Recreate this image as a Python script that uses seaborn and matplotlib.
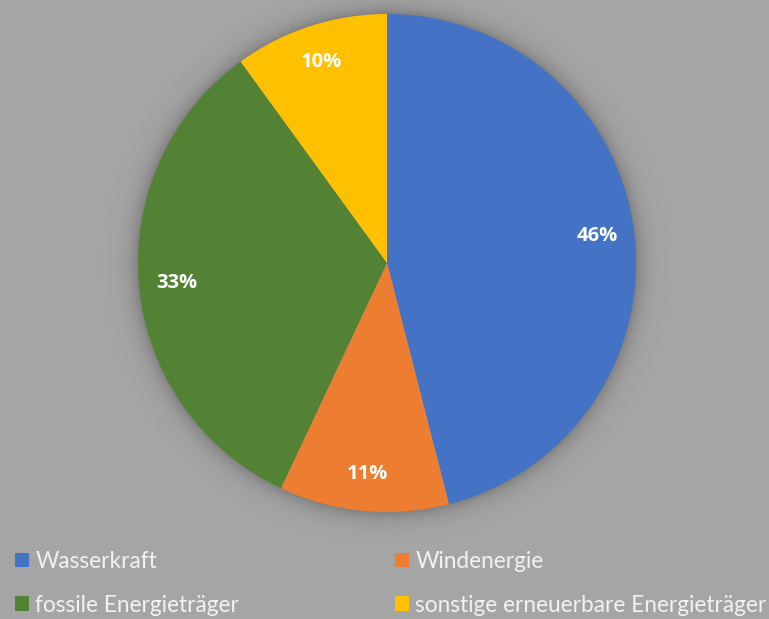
import numpy as np
import matplotlib
matplotlib.use("Agg")
import matplotlib.pyplot as plt
import seaborn as sns
from matplotlib.patches import Patch

sns.set_theme(style="white")
plt.rcParams["font.family"] = ["Lato", "DejaVu Sans"]

# Anteile der Energieträger (Prozent)
categories = ["Wasserkraft", "Windenergie", "fossile Energieträger",
              "sonstige erneuerbare Energieträger"]
shares = [46, 11, 33, 10]
colors = ["#4472C4", "#ED7D31", "#548235", "#FFC000"]

W, H = 769, 619
bg = "#a5a5a5"
fig = plt.figure(figsize=(W / 100, H / 100), dpi=100)
fig.patch.set_facecolor(bg)

# pie geometry in pixels (from top-left)
cx, cy, R = 387, 263, 249

# soft shadow behind the pie
bg_ax = fig.add_axes([0, 0, 1, 1], zorder=0)
bg_ax.set_xlim(0, W)
bg_ax.set_ylim(H, 0)
bg_ax.axis("off")
yy, xx = np.mgrid[0:H, 0:W] + 0.5
d = np.hypot(xx - cx, yy - cy)
alpha = np.clip(0.22 * np.exp(-np.clip(d - R, 0, None) / 9.0), 0, 1)
alpha[d < R - 3] = 0
rgba = np.zeros((H, W, 4))
rgba[..., 3] = alpha
bg_ax.imshow(rgba, extent=[0, W, H, 0], interpolation="bilinear")

ax = fig.add_axes([(cx - R) / W, (H - cy - R) / H, 2 * R / W, 2 * R / H], zorder=1)
wedges, texts, autotexts = ax.pie(
    shares, colors=colors, startangle=90, counterclock=False,
    autopct=lambda p: f"{p:.0f}%", pctdistance=0.85, radius=1.0,
    wedgeprops=dict(linewidth=0),
    textprops=dict(color="white", fontsize=14.5, fontweight="bold",
                   family=["Open Sans", "DejaVu Sans"]),
)
ax.set_xlim(-1, 1)
ax.set_ylim(-1, 1)
ax.set_aspect("equal")
ax.axis("off")

handles = [Patch(facecolor=c, edgecolor="none") for c in colors]
legend_kw = dict(frameon=False, labelcolor="#f2f2f2",
                 prop=dict(family=["Lato", "DejaVu Sans"], size=16.3),
                 handlelength=0.6, handleheight=0.6, handletextpad=0.3,
                 labelspacing=1.0, loc="upper left", borderaxespad=0,
                 borderpad=0)
leg1 = fig.legend([handles[0], handles[2]], [categories[0], categories[2]],
                  bbox_to_anchor=(15 / W, 1 - 551 / H), **legend_kw)
leg2 = fig.legend([handles[1], handles[3]], [categories[1], categories[3]],
                  bbox_to_anchor=(395 / W, 1 - 551 / H), **legend_kw)

fig.savefig("out.png", dpi=100, facecolor=bg)
